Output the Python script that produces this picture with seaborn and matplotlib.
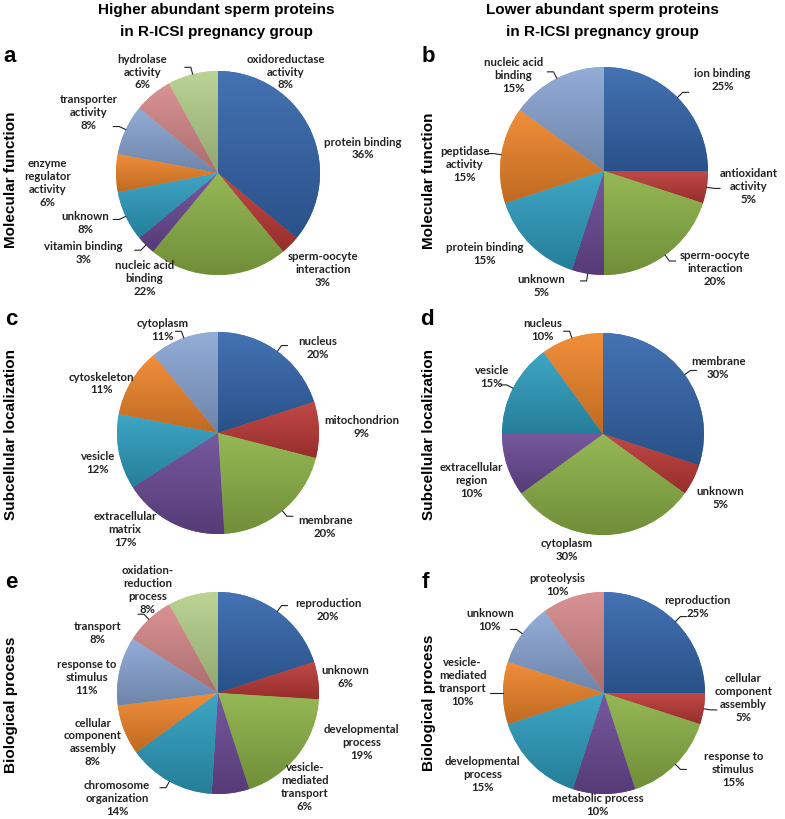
import numpy as np
import matplotlib.pyplot as plt
import matplotlib.colors as mcolors
import seaborn as sns

sns.set_style("white")
plt.rcParams["font.family"] = ["Lato", "DejaVu Sans"]

# ---- data (percent of proteins per GO category) ----
mf_high_labels = ["protein binding", "sperm-oocyte\ninteraction", "nucleic acid\nbinding",
                  "vitamin binding", "unknown", "enzyme\nregulator\nactivity",
                  "transporter\nactivity", "hydrolase\nactivity", "oxidoreductase\nactivity"]
mf_high_values = [36, 3, 22, 3, 8, 6, 8, 6, 8]

mf_low_labels = ["ion binding", "antioxidant\nactivity", "sperm-oocyte\ninteraction",
                 "unknown", "protein binding", "peptidase\nactivity", "nucleic acid\nbinding"]
mf_low_values = [25, 5, 20, 5, 15, 15, 15]

sl_high_labels = ["nucleus", "mitochondrion", "membrane", "extracellular\nmatrix",
                  "vesicle", "cytoskeleton", "cytoplasm"]
sl_high_values = [20, 9, 20, 17, 12, 11, 11]

sl_low_labels = ["membrane", "unknown", "cytoplasm", "extracellular\nregion",
                 "vesicle", "nucleus"]
sl_low_values = [30, 5, 30, 10, 15, 10]

bp_high_labels = ["reproduction", "unknown", "developmental\nprocess",
                  "vesicle-\nmediated\ntransport", "chromosome\norganization",
                  "cellular\ncomponent\nassembly", "response to\nstimulus", "transport",
                  "oxidation-\nreduction\nprocess"]
bp_high_values = [20, 6, 19, 6, 14, 8, 11, 8, 8]

bp_low_labels = ["reproduction", "cellular\ncomponent\nassembly", "response to\nstimulus",
                 "metabolic process", "developmental\nprocess", "vesicle-\nmediated\ntransport",
                 "unknown", "proteolysis"]
bp_low_values = [25, 5, 15, 10, 15, 10, 10, 10]

col_titles = ["Higher abundant sperm proteins\nin R-ICSI pregnancy group",
              "Lower abundant sperm proteins\nin R-ICSI pregnancy group"]
row_titles = ["Molecular function", "Subcellular localization", "Biological process"]

# Excel-like slice colours
excel_colors = ["#3466AC", "#BC3A37", "#8CB247", "#6B4A95", "#2E9EC0",
                "#EF852A", "#8AA6D4", "#D6898A", "#B5D08C"]

# ---- layout (pixels, top-left origin) ----
W, H = 785, 820
panels = [
    # letter, labels, values, centre, radius, label offsets (in radii), leader lines
    ("a", mf_high_labels, mf_high_values, (218, 174), 102,
     [(1.42, 0.25), (1.03, -0.94), (-0.72, -1.02), (-1.32, -0.77), (-1.30, -0.48),
      (-1.67, -0.09), (-1.27, 0.60), (-0.74, 1.00), (0.66, 1.00)],
     [3, 4, 6, 8]),
    ("b", mf_low_labels, mf_low_values, (604, 172), 104,
     [(1.14, 0.88), (1.39, -0.14), (1.07, -0.93), (-0.60, -1.10), (-1.15, -0.79),
      (-1.34, 0.07), (-0.87, 0.93)],
     [0, 1, 2, 3, 5, 6]),
    ("c", sl_high_labels, sl_high_values, (218, 434), 101,
     [(0.99, 0.85), (1.42, 0.07), (1.06, -0.92), (-0.92, -0.95), (-1.19, -0.29),
      (-1.15, 0.50), (-0.55, 1.03)],
     [0, 2, 6]),
    ("d", sl_low_labels, sl_low_values, (603, 435), 101,
     [(1.14, 0.66), (1.16, -0.62), (-0.36, -1.14), (-1.30, -0.45), (-1.10, 0.57),
      (-0.60, 1.04)],
     [0, 4, 5]),
    ("e", bp_high_labels, bp_high_values, (218, 694), 101,
     [(1.09, 0.83), (1.26, 0.17), (1.42, -0.48), (0.86, -0.92), (-1.00, -1.03),
      (-1.24, -0.48), (-1.30, 0.16), (-1.19, 0.60), (-0.70, 1.03)],
     [0, 4, 7]),
    ("f", bp_low_labels, bp_low_values, (604, 694), 101,
     [(0.93, 0.86), (1.38, -0.04), (1.28, -0.75), (-0.06, -1.10), (-1.20, -0.80),
      (-1.40, 0.12), (-1.13, 0.73), (-0.46, 1.08)],
     [0, 1, 2, 5, 6]),
]
letter_pos = {"a": (10, 56), "b": (428, 57), "c": (11, 320), "d": (427, 320),
              "e": (11, 583), "f": (425, 583)}
row_label_pos = [[(11, 180), (429, 181)], [(11, 434), (429, 435)], [(11, 705), (429, 703)]]

fig = plt.figure(figsize=(W / 100, H / 100), dpi=100)
ax = fig.add_axes([0, 0, 1, 1])

for letter, labels, values, (cx, cy), r, offsets, leaders in panels:
    centre = (cx, H - cy)
    cols = excel_colors[:len(values)]
    wedges, _ = ax.pie(values, colors=cols, startangle=90, counterclock=False,
                       center=centre, radius=r, frame=True,
                       wedgeprops=dict(linewidth=0))
    # vertical light-to-dark shading inside each slice
    for w, c in zip(wedges, cols):
        rgb = np.array(mcolors.to_rgb(c))
        light = rgb + (1 - rgb) * 0.08
        dark = rgb * 0.80
        cmap = mcolors.LinearSegmentedColormap.from_list("g", [dark, light])
        ext = w.get_path().get_extents()
        im = ax.imshow(np.linspace(0, 1, 64).reshape(-1, 1), cmap=cmap, origin="lower",
                       extent=[ext.x0, ext.x1, ext.y0, ext.y1], aspect="auto",
                       interpolation="bilinear", zorder=1.5)
        im.set_clip_path(w)

    total = sum(values)
    for i, (lab, v, (dx, dy)) in enumerate(zip(labels, values, offsets)):
        ax.text(centre[0] + dx * r, centre[1] + dy * r, f"{lab}\n{round(100 * v / total)}%",
                ha="center", va="center", fontsize=8.2, fontweight="bold",
                color="#222222", linespacing=1.22, zorder=3)
        if i in leaders:
            w = wedges[i]
            th = np.deg2rad((w.theta1 + w.theta2) / 2)
            p = np.array(centre) + r * np.array([np.cos(th), np.sin(th)])
            q = np.array(centre) + 1.07 * r * np.array([np.cos(th), np.sin(th)])
            s = q + np.array([np.sign(np.cos(th)) * 0.06 * r, 0])
            ax.plot([p[0], q[0], s[0]], [p[1], q[1], s[1]], color="#222222",
                    lw=0.8, zorder=3)

    lx, ly = letter_pos[letter]
    ax.text(lx, H - ly, letter, fontsize=16, fontweight="bold", family="Liberation Sans",
            ha="center", va="center", color="black")

for j, t in enumerate(col_titles):
    x = 216 if j == 0 else 602
    ax.text(x, H - 21, t, ha="center", va="center", fontsize=11, fontweight="bold",
            family="Liberation Sans", linespacing=1.8, color="black")

for i, t in enumerate(row_titles):
    for (x, y) in row_label_pos[i]:
        ax.text(x, H - y, t, rotation=90, ha="center", va="center", fontsize=11,
                fontweight="bold", family="Liberation Sans", color="black")

ax.set_xlim(0, W)
ax.set_ylim(0, H)
ax.set_aspect("auto")
ax.axis("off")

fig.savefig("out.png", dpi=100, facecolor="white")
plt.close(fig)
